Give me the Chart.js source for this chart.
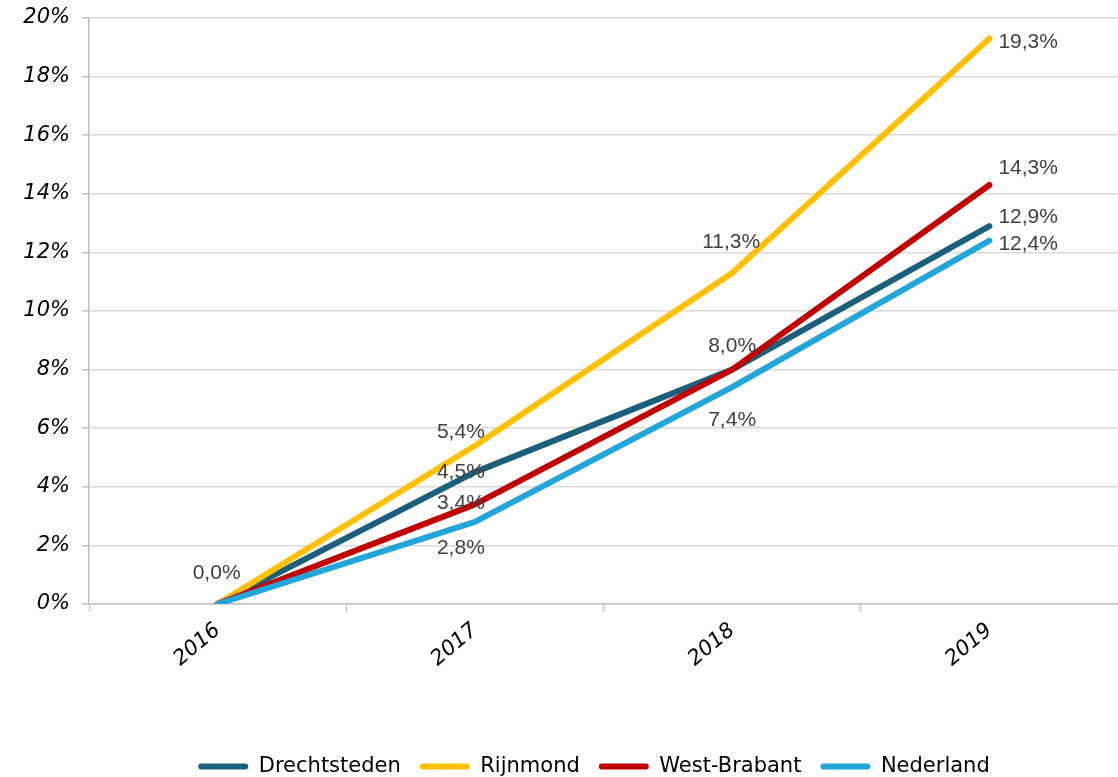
<!DOCTYPE html>
<html>
<head>
<meta charset="utf-8">
<script src="https://cdn.jsdelivr.net/npm/chart.js@4"></script>
<style>
  body { margin: 0; background: #fff; }
  canvas { display: block; }
</style>
</head>
<body>
<canvas id="chart" width="1118" height="777"></canvas>
<script>
const jaren = ['2016', '2017', '2018', '2019'];
const yTicks = [0, 2, 4, 6, 8, 10, 12, 14, 16, 18, 20];

const drechtsteden = [0.0, 4.5, 8.0, 12.9];
const rijnmond = [0.0, 5.4, 11.3, 19.3];
const westBrabant = [0.0, 3.4, 8.0, 14.3];
const nederland = [0.0, 2.8, 7.4, 12.4];

function pct(v) {
  return v.toFixed(1).replace('.', ',') + '%';
}

// tekst bij de punten, [dx, dy, align]
const labelPlugin = {
  id: 'puntLabels',
  afterDatasetsDraw(chart) {
    const ctx = chart.ctx;
    ctx.save();
    ctx.font = '21px "Liberation Sans", Arial, sans-serif';
    ctx.fillStyle = '#404040';
    ctx.textBaseline = 'middle';
    chart.data.datasets.forEach((ds, i) => {
      const meta = chart.getDatasetMeta(i);
      (ds.labelAt || []).forEach((pos, j) => {
        if (!pos) return;
        const pt = meta.data[j];
        ctx.textAlign = pos[2] || 'center';
        ctx.fillText(pct(ds.data[j]), pt.x + pos[0], pt.y + pos[1]);
      });
    });
    ctx.restore();
  }
};

// legenda staat in het origineel iets rechts van het midden
const legendShift = {
  id: 'legendShift',
  afterLayout(chart) {
    chart.legend.left += 35;
    chart.legend.right += 35;
  }
};

function lijn(label, data, kleur, order, labelAt) {
  return {
    label: label,
    data: data,
    borderColor: kleur,
    backgroundColor: kleur,
    borderWidth: 6,
    borderCapStyle: 'round',
    borderJoinStyle: 'round',
    pointRadius: 0,
    tension: 0,
    order: order,
    labelAt: labelAt
  };
}

new Chart(document.getElementById('chart'), {
  type: 'line',
  data: {
    labels: jaren,
    datasets: [
      lijn('Drechtsteden', drechtsteden, '#1C5F7B', 4,
        [[-1, -31], [-14, 0], [0, -23], [9, -9, 'left']]),
      lijn('Rijnmond', rijnmond, '#FFC000', 3,
        [null, [-14, -14], [-1, -31], [9, 4, 'left']]),
      lijn('West-Brabant', westBrabant, '#C00000', 2,
        [null, [-14, -1], null, [9, -17, 'left']]),
      lijn('Nederland', nederland, '#22A5D8', 1,
        [null, [-14, 26], [0, 33], [9, 4, 'left']])
    ]
  },
  options: {
    responsive: false,
    animation: false,
    layout: { padding: { top: 18, right: 0, left: 0, bottom: -10 } },
    plugins: {
      legend: {
        position: 'bottom',
        labels: {
          boxWidth: 50,
          boxHeight: 6,
          padding: 19,
          color: '#000',
          font: { family: 'DejaVu Sans', size: 21 },
          useBorderRadius: true,
          borderRadius: 3,
          sort: (a, b) => a.datasetIndex - b.datasetIndex,
          generateLabels(chart) {
            return Chart.defaults.plugins.legend.labels.generateLabels(chart).map(l => {
              l.fillStyle = chart.data.datasets[l.datasetIndex].borderColor;
              l.lineWidth = 0;
              l.strokeStyle = 'rgba(0,0,0,0)';
              return l;
            });
          }
        }
      },
      tooltip: { enabled: false }
    },
    scales: {
      x: {
        offset: true,
        grid: {
          offset: true,
          drawOnChartArea: false,
          tickLength: 8,
          tickColor: '#bfbfbf'
        },
        border: { color: '#bfbfbf', width: 1.5 },
        ticks: {
          color: '#000',
          minRotation: 40,
          maxRotation: 40,
          padding: 6,
          font: { family: 'DejaVu Sans', size: 21, style: 'italic' }
        },
        afterFit(scale) {
          scale.height = 133;
          scale.paddingLeft = 0;
          scale.paddingRight = 0;
        }
      },
      y: {
        min: 0,
        max: 20,
        afterBuildTicks(scale) {
          scale.ticks = yTicks.map(v => ({ value: v }));
        },
        grid: {
          color: '#d9d9d9',
          lineWidth: 1.5,
          tickLength: 7,
          tickColor: '#bfbfbf'
        },
        border: { color: '#bfbfbf', width: 1.5 },
        ticks: {
          color: '#000',
          padding: 12,
          font: { family: 'DejaVu Sans', size: 21, style: 'italic' },
          callback: v => v + '%'
        },
        afterFit(scale) {
          scale.width = 89;
          scale.paddingTop = 0;
          scale.paddingBottom = 0;
        }
      }
    }
  },
  plugins: [labelPlugin, legendShift]
});
</script>
</body>
</html>
